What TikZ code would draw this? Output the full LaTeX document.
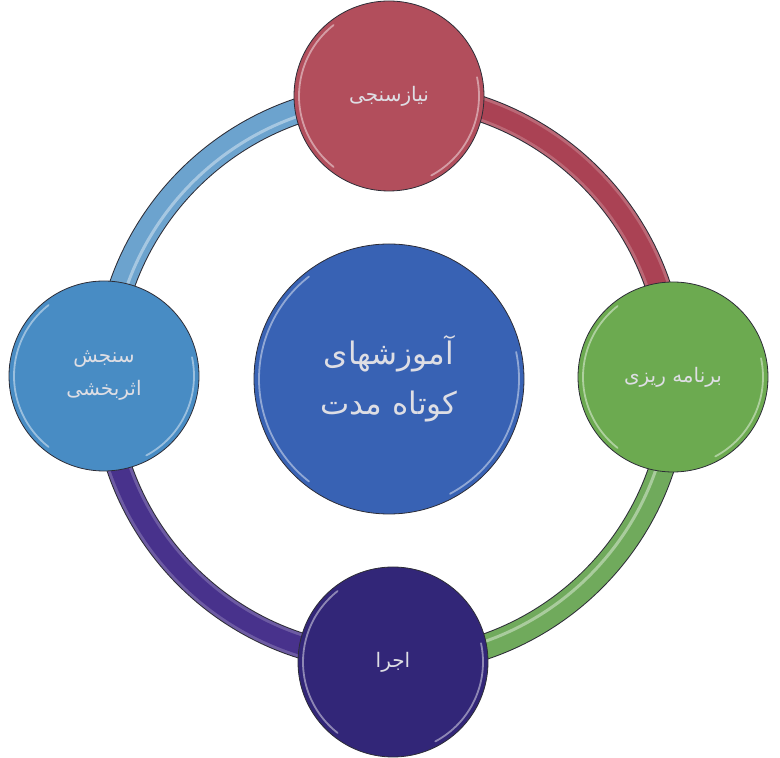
\documentclass[tikz,border=0pt]{standalone}
\usepackage{fontspec}
\newfontfamily\arabicfont[Script=Arabic]{DejaVu Sans}
\TeXXeTstate=1
\pgfdeclarelayer{background}
\pgfsetlayers{background,main}
\makeatletter
\pgfdeclareradialshading[tikz@radial@inner,tikz@radial@outer]{glossy}{\pgfpoint{0bp}{0bp}}{color(0bp)=(tikz@radial@inner); color(38bp)=(tikz@radial@inner); color(50bp)=(tikz@radial@outer)}
\makeatother
\definecolor{redc}{RGB}{178,78,92}
\definecolor{greenc}{RGB}{108,170,80}
\definecolor{bluec}{RGB}{72,140,196}
\definecolor{purplec}{RGB}{50,38,120}
\definecolor{centerc}{RGB}{56,98,180}
\definecolor{ringblue}{RGB}{108,163,206}
\definecolor{ringred}{RGB}{170,66,84}
\definecolor{ringgreen}{RGB}{112,170,92}
\definecolor{ringpurple}{RGB}{72,50,140}
\definecolor{txtc}{RGB}{222,222,228}
\definecolor{edgec}{RGB}{45,45,55}
\tikzset{
  ball/.style={circle, inner sep=0pt, draw=edgec, line width=0.8pt,
    inner color=#1, outer color=#1!90!black, shading=glossy,
    text=txtc, align=center},
  smallball/.style={ball=#1, minimum size=190pt,
    font=\arabicfont\fontsize{20}{33}\selectfont},
  bigball/.style={ball=#1, minimum size=270pt,
    font=\arabicfont\fontsize{31}{50}\selectfont},
  ringedge/.style={line width=26pt, draw=edgec},
  ringfill/.style={line width=24pt, draw=#1},
  ringcore/.style={line width=18pt, draw=#1},
  stripe/.style={line width=3pt, draw=white, opacity=0.4},
  hl/.style={line width=1.8pt, draw=white, opacity=0.45, line cap=round}
}
\begin{document}
\begin{tikzpicture}[x=1pt,y=1pt]
\useasboundingbox (0,0) rectangle (780,758);
\coordinate (O) at (389,379);
\node[smallball=redc] (T) at (389,662) {\beginR نیازسنجی\endR};
\node[smallball=greenc] (R) at (673,381) {\beginR برنامه ریزی\endR};
\node[smallball=purplec] (B) at (393,96) {\beginR اجرا\endR};
\node[smallball=bluec] (L) at (104,382) {\beginR سنجش\endR\\\beginR اثربخشی\endR};
\node[bigball=centerc] (C) at (O) {\beginR آموزشهای\endR\\\beginR کوتاه مدت\endR};
\begin{pgfonlayer}{background}
  % left -> top (blue)
  \draw[ringedge] (T.center) arc[start angle=90,end angle=180,radius=283];
  \draw[ringfill=ringblue] (T.center) arc[start angle=90,end angle=180,radius=283];
  \draw[stripe] ([yshift=-5]T.center) arc[start angle=90,end angle=180,radius=278];
  % top -> right (red)
  \draw[ringedge] (R.center) arc[start angle=0,end angle=90,radius=283];
  \draw[ringfill=ringred!80!white] (R.center) arc[start angle=0,end angle=90,radius=283];
  \draw[ringcore=ringred] (R.center) arc[start angle=0,end angle=90,radius=283];
  % right -> bottom (green)
  \draw[ringedge] (B.center) arc[start angle=-90,end angle=0,radius=283];
  \draw[ringfill=ringgreen] (B.center) arc[start angle=-90,end angle=0,radius=283];
  \draw[stripe] ([yshift=5]B.center) arc[start angle=-90,end angle=0,radius=278];
  % bottom -> left (purple)
  \draw[ringedge] (L.center) arc[start angle=180,end angle=270,radius=283];
  \draw[ringfill=ringpurple!80!white] (L.center) arc[start angle=180,end angle=270,radius=283];
  \draw[ringcore=ringpurple] (L.center) arc[start angle=180,end angle=270,radius=283];
\end{pgfonlayer}
\foreach \n/\r in {T/90,R/90,B/90,L/90,C/130}{
  \draw[hl] (\n.center) ++(128:\r) arc[start angle=128,end angle=232,radius=\r];
  \draw[hl] (\n.center) ++(-62:\r) arc[start angle=-62,end angle=12,radius=\r];
}
\end{tikzpicture}
\end{document}
